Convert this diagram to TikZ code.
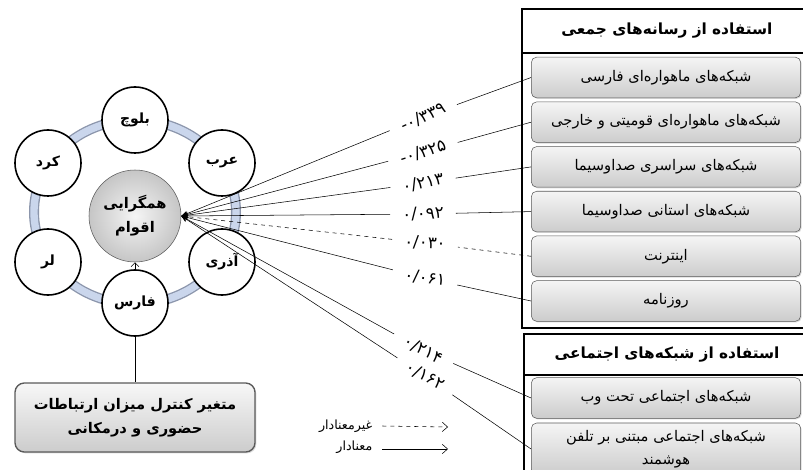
\documentclass[tikz,border=0pt]{standalone}
\usepackage{fontspec}
\usetikzlibrary{arrows.meta,shadows,positioning}
\newfontfamily\fa[Script=Arabic]{DejaVu Sans}
\TeXXeTstate=1
\newcommand{\fatxt}[1]{{\fa\beginR #1\endR}}
\definecolor{ringfill}{RGB}{202,214,236}
\definecolor{ringedge}{RGB}{140,150,172}
\definecolor{boxedge}{RGB}{90,90,90}
\tikzset{
	ethnic/.style={circle, draw, line width=1.2pt, fill=white, minimum size=49.5pt, inner sep=0pt, font=\fa\bfseries\fontsize{10.5}{12}\selectfont},
	media/.style={draw=boxedge, rounded corners=4pt, top color=gray!8, bottom color=gray!40, minimum width=202pt, minimum height=30.5pt, inner sep=1pt, align=center, font=\fa\fontsize{11}{17}\selectfont, drop shadow={shadow xshift=0.8pt, shadow yshift=-0.8pt, opacity=0.3}},
	coef/.style={inner sep=1pt, font=\fa\fontsize{12.5}{14}\selectfont},
	head/.style={font=\fa\bfseries\fontsize{11.5}{13}\selectfont},
	tobox/.style={shorten >=8pt},
	sig/.style={-{Stealth[length=5pt,width=4pt]}, shorten <=8pt},
	nonsig/.style={sig, dashed},
}
\begin{document}
\begin{tikzpicture}[x=0.75pt, y=-0.75pt]
	\useasboundingbox (0,0) rectangle (803,470);
	\clip (0,0) rectangle (803,470);
	% ring of the ethnic groups
	\draw[ringedge, line width=7.5pt] (135,212) ellipse (75.75pt and 69pt);
	\draw[ringfill, line width=5.5pt] (135,212) ellipse (75.75pt and 69pt);
	\node[circle, draw=boxedge, inner color=gray!8, outer color=gray!45, minimum size=69pt, inner sep=0pt, align=center, font=\fa\bfseries\fontsize{11}{18}\selectfont] (hub) at (135,216) {\fatxt{همگرایی}\\\fatxt{اقوام}};
	\coordinate (tip) at (hub.east);
	\node[ethnic] (baluch) at (135,120) {\fatxt{بلوچ}};
	\node[ethnic] (arab) at (222,163) {\fatxt{عرب}};
	\node[ethnic] (azari) at (222,262) {\fatxt{آذری}};
	\node[ethnic] (fars) at (135,303) {\fatxt{فارس}};
	\node[ethnic] (lor) at (48,262) {\fatxt{لر}};
	\node[ethnic] (kurd) at (48,163) {\fatxt{کرد}};
	\draw[-{Straight Barb[length=3pt,width=6pt]}] (fars) -- (hub);
	% control variable
	\node[draw=boxedge, line width=1pt, rounded corners=7pt, top color=gray!6, bottom color=gray!40, minimum width=180pt, minimum height=51.75pt, align=center, font=\fa\bfseries\fontsize{11}{18}\selectfont, drop shadow={shadow xshift=1pt, shadow yshift=-1pt, opacity=0.3}] (ctrl) at (135,417.5) {\fatxt{متغیر کنترل میزان ارتباطات}\\\fatxt{حضوری و درمکانی}};
	\draw (fars) -- (ctrl);
	% mass media
	\draw[line width=1.4pt] (522,9) rectangle (810,328);
	\draw[line width=1.4pt] (522,53) -- (810,53);
	\node[head] (masshead) at (667,31) {\fatxt{استفاده از رسانه‌های جمعی}};
	\node[media] (m1) at (666,77.5) {\fatxt{شبکه‌های ماهواره‌ای فارسی}};
	\node[media] (m2) at (666,122.2) {\fatxt{شبکه‌های ماهواره‌ای قومیتی و خارجی}};
	\node[media] (m3) at (666,166.9) {\fatxt{شبکه‌های سراسری صداوسیما}};
	\node[media] (m4) at (666,211.6) {\fatxt{شبکه‌های استانی صداوسیما}};
	\node[media] (m5) at (666,256.3) {\fatxt{اینترنت}};
	\node[media] (m6) at (666,301) {\fatxt{روزنامه}};
	% social networks
	\draw[line width=1.4pt] (524,334) rectangle (810,490);
	\draw[line width=1.4pt] (524,375) -- (810,375);
	\node[head] (socialhead) at (667,355) {\fatxt{استفاده از شبکه‌های اجتماعی}};
	\node[media] (s1) at (666,398) {\fatxt{شبکه‌های اجتماعی تحت وب}};
	\node[media, minimum height=39pt] (s2) at (666,449) {\fatxt{شبکه‌های اجتماعی مبتنی بر تلفن}\\\fatxt{هوشمند}};
	% coefficients
	\node[coef, rotate=25] (c1) at (423,117) {۰/۳۳۹-};
	\node[coef, rotate=18] (c2) at (423,152) {۰/۳۲۵-};
	\node[coef, rotate=11] (c3) at (423,183) {۰/۲۱۳};
	\node[coef, rotate=3] (c4) at (423,214) {۰/۰۹۲};
	\node[coef, rotate=-3] (c5) at (425,243) {۰/۰۳۰};
	\node[coef, rotate=-8] (c6) at (425,278) {۰/۰۶۱};
	\node[coef, rotate=-28] (c7) at (423,350) {۰/۲۱۴};
	\node[coef, rotate=-28] (c8) at (425,376) {۰/۱۶۲};
	\draw[tobox] (m1.west) -- (c1);  \draw[sig] (c1) -- (tip);
	\draw[tobox] (m2.west) -- (c2);  \draw[sig] (c2) -- (tip);
	\draw[tobox] (m3.west) -- (c3);  \draw[sig] (c3) -- (tip);
	\draw[tobox] (m4.west) -- (c4);  \draw[sig] (c4) -- (tip);
	\draw[tobox, dashed] (m5.west) -- (c5);  \draw[nonsig] (c5) -- (tip);
	\draw[tobox] (m6.west) -- (c6);  \draw[sig] (c6) -- (tip);
	\draw[tobox] (s1.west) -- (c7);  \draw[sig] (c7) -- (tip);
	\draw[tobox] (s2.west) -- (c8);  \draw[sig] (c8) -- (tip);
	% legend
	\node[anchor=east, font=\fa\fontsize{9.5}{11}\selectfont] (nsig) at (377,426) {\fatxt{غیرمعنادار}};
	\node[anchor=east, font=\fa\fontsize{9.5}{11}\selectfont] (ssig) at (377,447) {\fatxt{معنادار}};
	\coordinate (nsigend) at (448,427);
	\coordinate (ssigend) at (448,449);
	\draw[dashed, -{Straight Barb[length=4pt,width=7pt]}] ([xshift=4pt]nsig.east) -- (nsigend);
	\draw[-{Straight Barb[length=4pt,width=7pt]}] ([xshift=4pt]ssig.east |- ssigend) -- (ssigend);
\end{tikzpicture}
\end{document}
